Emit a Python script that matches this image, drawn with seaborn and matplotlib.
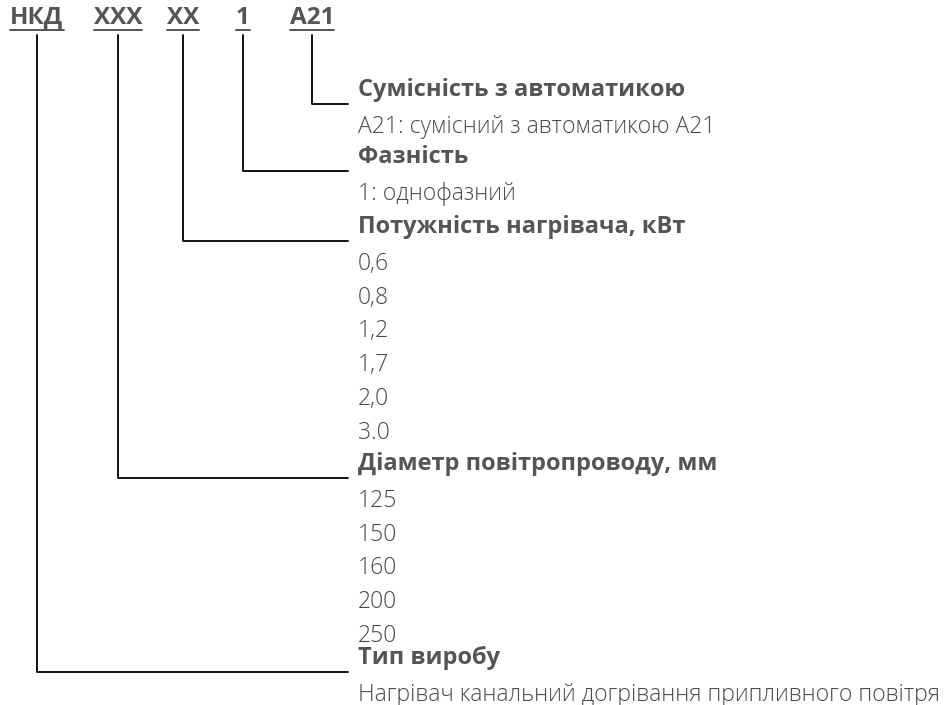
import numpy as np
import pandas as pd
import matplotlib
matplotlib.use("Agg")
import matplotlib.pyplot as plt
import seaborn as sns

# code parts shown on top, left to right
codes = ["НКД", "XXX", "XX", "1", "A21"]

# section titles, bottom-up order matches codes
titles = ["Тип виробу", "Діаметр повітропроводу, мм",
          "Потужність нагрівача, кВт", "Фазність", "Сумісність з автоматикою"]
options = [
    ["Нагрівач канальний догрівання припливного повітря"],
    ["125", "150", "160", "200", "250"],
    ["0,6", "0,8", "1,2", "1,7", "2,0", "3.0"],
    ["1: однофазний"],
    ["A21: сумісний з автоматикою A21"],
]

# layout (pixels)
code_x = [37, 118, 183, 243, 312]
title_y = [658, 464, 227, 157, 90]
row_h = 33.8
text_x = 358
line_end = 348
top_y = 35

sns.set_theme(style="white")
plt.rcParams["font.family"] = ["Open Sans", "DejaVu Sans"]

fig = plt.figure(figsize=(9.49, 7.05), dpi=100)
ax = fig.add_axes([0, 0, 1, 1])
ax.set_xlim(0, 949)
ax.set_ylim(705, 0)
ax.set_autoscale_on(False)

# connector paths
rows = []
for i, (cx, ty) in enumerate(zip(code_x, title_y)):
    ly = ty + 14
    rows += [(i, 0, cx, top_y), (i, 1, cx, ly), (i, 2, line_end, ly)]
paths = pd.DataFrame(rows, columns=["part", "k", "x", "y"])
sns.lineplot(data=paths, x="x", y="y", units="part", estimator=None,
             sort=False, color="black", lw=1.3, ax=ax)

grey = "#555555"
for cx, code in zip(code_x, codes):
    t = ax.text(cx, 18, code, ha="center", va="center", fontsize=17.5,
                fontweight="bold", color=grey)
    fig.canvas.draw()
    bb = t.get_window_extent().transformed(ax.transData.inverted())
    ax.plot([bb.x0, bb.x1], [29.5, 29.5], color=grey, lw=1.4)

for ty, title, opts in zip(title_y, titles, options):
    ax.text(text_x, ty, title, ha="left", va="center", fontsize=17,
            fontweight="bold", color=grey)
    for j, o in enumerate(opts):
        ax.text(text_x, ty + (j + 1) * row_h + 3, o, ha="left", va="center",
                fontsize=16.6, fontweight="light", color="#4a4a4a")

ax.set_axis_off()
fig.savefig("out.png", dpi=100)
